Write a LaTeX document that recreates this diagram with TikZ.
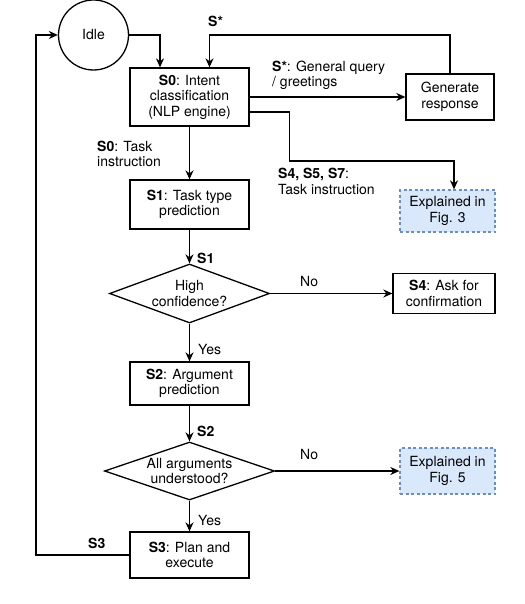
\documentclass[tikz,border=0pt]{standalone}
\usepackage{fontspec}
\setmainfont{TeX Gyre Heros}
\usetikzlibrary{shapes.geometric, arrows.meta, positioning, calc}

\definecolor{infofill}{HTML}{DAE8FC}
\definecolor{infodraw}{HTML}{6C8EBF}

\begin{document}
\begin{tikzpicture}[
        x=1pt, y=-1pt,
        font=\fontsize{14}{15.5}\selectfont,
        idlestate/.style={circle, draw=black, line width=1.3pt, minimum size=70pt, inner sep=0pt},
        state/.style={rectangle, draw=black, line width=1.3pt, align=center, inner sep=0pt},
        decision/.style={diamond, draw=black, line width=1.3pt, align=center, inner xsep=-30pt, inner ysep=-12pt},
        info/.style={rectangle, draw=infodraw, fill=infofill, line width=1.3pt, dash pattern=on 3pt off 2.5pt, align=center, inner sep=0pt},
        arrow/.style={-{Stealth[length=9pt, width=8pt]}, line width=1.3pt, draw=black},
        lbl/.style={inner sep=0pt, align=left, anchor=base west}
    ]
        \useasboundingbox (0,0) rectangle (524,604);

        \node[idlestate] (idle) at (93.5,35) {Idle};
        \node[state, minimum width=119pt, minimum height=58pt] (s0) at (189.5,97) {\textbf{S0}: Intent\\classification\\(NLP engine)};
        \node[state, minimum width=88pt, minimum height=46pt] (gen) at (450,97) {Generate\\response};
        \node[info, minimum width=95pt, minimum height=42pt] (fig3) at (447.5,211) {Explained in\\Fig. 3};
        \node[state, minimum width=119pt, minimum height=49pt] (s1) at (189.5,204.5) {\textbf{S1}: Task type\\prediction};
        \node[decision, minimum width=160pt, minimum height=59pt] (conf) at (189.5,293.5) {High\\confidence?};
        \node[state, minimum width=102pt, minimum height=40pt] (s4) at (444,293.5) {\textbf{S4}: Ask for\\confirmation};
        \node[state, minimum width=119pt, minimum height=43pt] (s2) at (189.5,383.5) {\textbf{S2}: Argument\\prediction};
        \node[decision, minimum width=170pt, minimum height=58pt] (args) at (189.5,471) {All arguments\\understood?};
        \node[info, minimum width=95pt, minimum height=46pt] (fig5) at (447.5,471) {Explained in\\Fig. 5};
        \node[state, minimum width=119pt, minimum height=46pt] (s3) at (189.5,555) {\textbf{S3}: Plan and\\execute};

        \coordinate (loop) at (209.5,35);
        \coordinate (back) at (36,555);

        % edge labels (base = last line)
        \node[lbl] (lstar) at (208,27) {\textbf{S*}};
        \node[lbl] (lgen) at (272,87) {\textbf{S*}: General query\\/ greetings};
        \node[lbl] (ltask) at (97,167) {\textbf{S0}: Task\\instruction};
        \node[lbl] (lother) at (278,194) {\textbf{S4, S5, S7}:\\Task instruction};
        \node[lbl] (ls1) at (197,263) {\textbf{S1}};
        \node[lbl] (lno1) at (300,286) {No};
        \node[lbl] (lyes1) at (198,354) {Yes};
        \node[lbl] (ls2) at (197,436) {\textbf{S2}};
        \node[lbl] (lno2) at (300,459) {No};
        \node[lbl] (lyes2) at (198,525) {Yes};
        \node[lbl] (ls3) at (88,548) {\textbf{S3}};

        \draw[arrow] (idle) -| ([xshift=-29.5pt]s0.north);
        \draw[arrow] (gen) |- (loop) -- (loop |- s0.north);
        \draw[arrow] (s0) -- (gen);
        \draw[arrow] ([yshift=-15pt]s0.east) -- ++(39.5,0) -- ++(0,49) -| ([xshift=6.5pt]fig3.north);
        \draw[arrow] (s0) -- (s1);
        \draw[arrow] (s1) -- (conf);
        \draw[arrow] (conf) -- (s4);
        \draw[arrow] (conf) -- (s2);
        \draw[arrow] (s2) -- (args);
        \draw[arrow] (args) -- (fig5);
        \draw[arrow] (args) -- (s3);
        \draw[arrow] (s3) -- (back) |- (idle);
    \end{tikzpicture}
\end{document}
